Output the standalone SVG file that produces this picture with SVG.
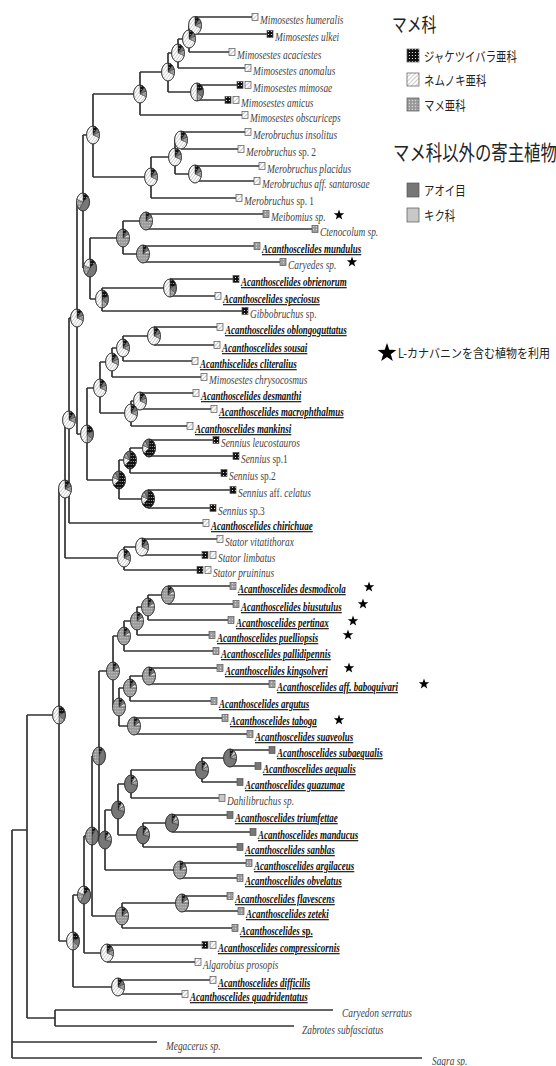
<svg xmlns="http://www.w3.org/2000/svg" width="556" height="1066" viewBox="0 0 556 1066">
<style>
.br{fill:none;stroke:#333;stroke-width:1.7}
.b{stroke:#555;stroke-width:.7}
.bc{fill:url(#pCaes)}
.bm{fill:url(#pMim)}
.bp{fill:url(#pPap)}
.bv{fill:#777}
.ba{fill:#c8c8c8}
.t{font-family:"Liberation Serif","Times New Roman",serif;font-size:12px;font-style:italic;fill:#444}
.tb{font-family:"Liberation Serif","Times New Roman",serif;font-size:11.5px;font-style:italic;font-weight:bold;fill:#111;text-decoration:underline}
.u{font-style:normal}
.s{stroke:#333;stroke-width:.6}
.lg{font-family:"Noto Sans CJK JP","Noto Sans CJK SC",sans-serif;fill:#222}
.st{fill:#000}
</style>
<defs>
<pattern id="pCaes" width="3" height="3" patternUnits="userSpaceOnUse"><rect width="3" height="3" fill="#111"/><circle cx="1.5" cy="1.5" r="0.6" fill="#fff"/></pattern>
<pattern id="pMim" width="3" height="3" patternUnits="userSpaceOnUse" patternTransform="rotate(45)"><rect width="3" height="3" fill="#fff"/><line x1="0" y1="0" x2="0" y2="3" stroke="#777" stroke-width="0.8"/></pattern>
<pattern id="pPap" width="3" height="3" patternUnits="userSpaceOnUse"><rect width="3" height="3" fill="#9a9a9a"/><circle cx="1.5" cy="1.5" r="0.7" fill="#d8d8d8"/></pattern>
<path id="star" d="M0,-5.5L1.29,-1.78L5.23,-1.7L2.09,0.68L3.23,4.45L0,2.2L-3.23,4.45L-2.09,0.68L-5.23,-1.7L-1.29,-1.78Z"/>
<g id="pieM">
<path class="s" d="M0,0L0,-9A9,9 0 0 1 6.16,-6.56Z" fill="url(#pCaes)"/>
<path class="s" d="M0,0L6.16,-6.56A9,9 0 0 1 8.56,-2.78Z" fill="#777"/>
<path class="s" d="M0,0L8.56,-2.78A9,9 0 0 1 8.56,2.78Z" fill="url(#pPap)"/>
<path class="s" d="M0,0L8.56,2.78A9,9 0 1 1 0,-9Z" fill="url(#pMim)"/>
<circle r="9" fill="none" stroke="#333" stroke-width="0.9"/>
</g>
<g id="pieC">
<path class="s" d="M0,0L0,-9A9,9 0 1 1 -7.28,5.29Z" fill="url(#pCaes)"/>
<path class="s" d="M0,0L-7.28,5.29A9,9 0 0 1 -8.56,-2.78Z" fill="url(#pMim)"/>
<path class="s" d="M0,0L-8.56,-2.78A9,9 0 0 1 -5.29,-7.28Z" fill="url(#pPap)"/>
<path class="s" d="M0,0L-5.29,-7.28A9,9 0 0 1 0,-9Z" fill="#777"/>
<circle r="9" fill="none" stroke="#333" stroke-width="0.9"/>
</g>
<g id="pieP">
<path class="s" d="M0,0L0,-9A9,9 0 0 1 5.29,-7.28Z" fill="url(#pCaes)"/>
<path class="s" d="M0,0L5.29,-7.28A9,9 0 0 1 8.14,-3.83Z" fill="#777"/>
<path class="s" d="M0,0L8.14,-3.83A9,9 0 0 1 9,0Z" fill="url(#pMim)"/>
<path class="s" d="M0,0L9,0A9,9 0 1 1 0,-9Z" fill="url(#pPap)"/>
<circle r="9" fill="none" stroke="#333" stroke-width="0.9"/>
</g>
<g id="pieV">
<path class="s" d="M0,0L0,-9A9,9 0 0 1 5.29,-7.28Z" fill="url(#pCaes)"/>
<path class="s" d="M0,0L5.29,-7.28A9,9 0 0 1 8.14,-3.83Z" fill="#c8c8c8"/>
<path class="s" d="M0,0L8.14,-3.83A9,9 0 0 1 8.84,1.69Z" fill="url(#pPap)"/>
<path class="s" d="M0,0L8.84,1.69A9,9 0 1 1 0,-9Z" fill="#777"/>
<circle r="9" fill="none" stroke="#333" stroke-width="0.9"/>
</g>
<g id="pieX">
<path class="s" d="M0,0L0,-9A9,9 0 0 1 8.56,-2.78Z" fill="url(#pCaes)"/>
<path class="s" d="M0,0L8.56,-2.78A9,9 0 0 1 7.28,5.29Z" fill="#777"/>
<path class="s" d="M0,0L7.28,5.29A9,9 0 0 1 0,9Z" fill="url(#pPap)"/>
<path class="s" d="M0,0L0,9A9,9 0 0 1 0,-9Z" fill="url(#pMim)"/>
<circle r="9" fill="none" stroke="#333" stroke-width="0.9"/>
</g>
<g id="pieD">
<path class="s" d="M0,0L0,-9A9,9 0 0 1 7.28,-5.29Z" fill="url(#pCaes)"/>
<path class="s" d="M0,0L7.28,-5.29A9,9 0 0 1 -5.29,7.28Z" fill="#777"/>
<path class="s" d="M0,0L-5.29,7.28A9,9 0 0 1 -8.56,-2.78Z" fill="url(#pPap)"/>
<path class="s" d="M0,0L-8.56,-2.78A9,9 0 0 1 0,-9Z" fill="url(#pMim)"/>
<circle r="9" fill="none" stroke="#333" stroke-width="0.9"/>
</g>
<g id="pieMP">
<path class="s" d="M0,0L0,-9A9,9 0 0 1 5.29,-7.28Z" fill="url(#pCaes)"/>
<path class="s" d="M0,0L5.29,-7.28A9,9 0 0 1 0,9Z" fill="#777"/>
<path class="s" d="M0,0L0,9A9,9 0 0 1 0,-9Z" fill="url(#pPap)"/>
<circle r="9" fill="none" stroke="#333" stroke-width="0.9"/>
</g>
</defs>
<rect width="556" height="1066" fill="#fff"/>

<g id="connectors" class="br">
<path d="M195,17V34M195,17H252M195,34H267"/>
<path d="M189,25.5V52M189,25.5H195M189,52H229"/>
<path d="M178,39V68M178,39H189M178,68H245"/>
<path d="M197,85V100M197,85H237M197,100H225"/>
<path d="M168,53V92M168,53H178M168,92H197"/>
<path d="M140,72V115M140,72H168M140,115H242"/>
<path d="M181,132V149M181,132H245M181,149H238"/>
<path d="M195,166V181M195,166H259M195,181H254"/>
<path d="M175,140V174M175,140H181M175,174H195"/>
<path d="M151,157V198M151,157H175M151,198H236"/>
<path d="M93,94V177M93,94H140M93,177H151"/>
<path d="M146,214V229M146,214H263M146,229H312"/>
<path d="M143,246V262M143,246H254M143,262H280"/>
<path d="M123,221V254M123,221H146M123,254H143"/>
<path d="M170,279V296M170,279H233M170,296H215"/>
<path d="M102,288V311M102,288H170M102,311H242"/>
<path d="M90,238V299M90,238H123M90,299H102"/>
<path d="M83,135V268M83,135H93M83,268H90"/>
<path d="M154,327V345M154,327H217M154,345H214"/>
<path d="M123,336V361M123,336H154M123,361H192"/>
<path d="M112,348V377M112,348H123M112,377H201"/>
<path d="M140,393V409M140,393H193M140,409H211"/>
<path d="M131,401V426M131,401H140M131,426H187"/>
<path d="M100,362V413M100,362H112M100,413H131"/>
<path d="M149,440V456M149,440H213M149,456H233"/>
<path d="M130,448V473M130,448H149M130,473H221"/>
<path d="M148,490V508M148,490H230M148,508H210"/>
<path d="M119,460V499M119,460H130M119,499H148"/>
<path d="M87,388V480M87,388H100M87,480H119"/>
<path d="M77,202V434M77,202H83M77,434H87"/>
<path d="M69,318V523M69,318H77M69,523H203"/>
<path d="M142,539V555M142,539H217M142,555H202"/>
<path d="M124,547V570M124,547H142M124,570H197"/>
<path d="M65,420V558M65,420H69M65,558H124"/>
<path d="M168,586V604M168,586H230M168,604H233"/>
<path d="M148,595V620M148,595H168M148,620H228"/>
<path d="M137,607V635M137,607H148M137,635H209"/>
<path d="M124,621V651M124,621H137M124,651H213"/>
<path d="M149,668V684M149,668H217M149,684H269"/>
<path d="M130,676V701M130,676H149M130,701H211"/>
<path d="M134,718V734M134,718H222M134,734H247"/>
<path d="M119,688V726M119,688H130M119,726H134"/>
<path d="M113,636V707M113,636H124M113,707H119"/>
<path d="M230,750V766M230,750H269M230,766H255"/>
<path d="M202,758V782M202,758H230M202,782H237"/>
<path d="M131,770V798M131,770H202M131,798H219"/>
<path d="M172,815V832M172,815H227M172,832H250"/>
<path d="M143,823V847M143,823H172M143,847H237"/>
<path d="M118,784V835M118,784H131M118,835H143"/>
<path d="M180,863V878M180,863H246M180,878H237"/>
<path d="M105,810V870M105,810H118M105,870H180"/>
<path d="M99,671V840M99,671H113M99,840H105"/>
<path d="M182,896V911M182,896H227M182,911H238"/>
<path d="M122,903V928M122,903H182M122,928H232"/>
<path d="M92,756V916M92,756H99M92,916H122"/>
<path d="M107,945V962M107,945H202M107,962H195"/>
<path d="M84,836V953M84,836H92M84,953H107"/>
<path d="M118,980V994M118,980H210M118,994H182"/>
<path d="M73,895V987M73,895H84M73,987H118"/>
<path d="M59,489V941M59,489H65M59,941H73"/>
<path d="M55,1010V1026M55,1010H333M55,1026H294"/>
<path d="M27,715V1018M27,715H59M27,1018H55"/>
<path d="M12,830V1058M12,830H27M12,1042H157M12,1058H422"/>
</g>

<g id="internal-nodes">
<use href="#pieM" transform="translate(195,25.5) scale(.72,1)"/>
<use href="#pieM" transform="translate(189,39) scale(.72,1)"/>
<use href="#pieM" transform="translate(178,53) scale(.72,1)"/>
<use href="#pieX" transform="translate(197,92) scale(.72,1)"/>
<use href="#pieM" transform="translate(168,72) scale(.72,1)"/>
<use href="#pieM" transform="translate(140,94) scale(.72,1)"/>
<use href="#pieM" transform="translate(181,140) scale(.72,1)"/>
<use href="#pieM" transform="translate(195,174) scale(.72,1)"/>
<use href="#pieM" transform="translate(175,157) scale(.72,1)"/>
<use href="#pieM" transform="translate(151,177) scale(.72,1)"/>
<use href="#pieM" transform="translate(93,135) scale(.72,1)"/>
<use href="#pieP" transform="translate(146,221) scale(.72,1)"/>
<use href="#pieP" transform="translate(143,254) scale(.72,1)"/>
<use href="#pieP" transform="translate(123,238) scale(.72,1)"/>
<use href="#pieX" transform="translate(170,288) scale(.72,1)"/>
<use href="#pieX" transform="translate(102,299) scale(.72,1)"/>
<use href="#pieD" transform="translate(90,268) scale(.72,1)"/>
<use href="#pieD" transform="translate(83,202) scale(.72,1)"/>
<use href="#pieM" transform="translate(154,336) scale(.72,1)"/>
<use href="#pieM" transform="translate(123,348) scale(.72,1)"/>
<use href="#pieM" transform="translate(112,362) scale(.72,1)"/>
<use href="#pieM" transform="translate(140,401) scale(.72,1)"/>
<use href="#pieM" transform="translate(131,413) scale(.72,1)"/>
<use href="#pieM" transform="translate(100,388) scale(.72,1)"/>
<use href="#pieC" transform="translate(149,448) scale(.72,1)"/>
<use href="#pieC" transform="translate(130,460) scale(.72,1)"/>
<use href="#pieC" transform="translate(148,499) scale(.72,1)"/>
<use href="#pieC" transform="translate(119,480) scale(.72,1)"/>
<use href="#pieX" transform="translate(87,434) scale(.72,1)"/>
<use href="#pieM" transform="translate(77,318) scale(.72,1)"/>
<use href="#pieM" transform="translate(69,420) scale(.72,1)"/>
<use href="#pieM" transform="translate(142,547) scale(.72,1)"/>
<use href="#pieM" transform="translate(124,558) scale(.72,1)"/>
<use href="#pieM" transform="translate(65,489) scale(.72,1)"/>
<use href="#pieP" transform="translate(168,595) scale(.72,1)"/>
<use href="#pieP" transform="translate(148,607) scale(.72,1)"/>
<use href="#pieP" transform="translate(137,621) scale(.72,1)"/>
<use href="#pieP" transform="translate(124,636) scale(.72,1)"/>
<use href="#pieP" transform="translate(149,676) scale(.72,1)"/>
<use href="#pieP" transform="translate(130,688) scale(.72,1)"/>
<use href="#pieP" transform="translate(134,726) scale(.72,1)"/>
<use href="#pieP" transform="translate(119,707) scale(.72,1)"/>
<use href="#pieP" transform="translate(113,671) scale(.72,1)"/>
<use href="#pieV" transform="translate(230,758) scale(.72,1)"/>
<use href="#pieV" transform="translate(202,770) scale(.72,1)"/>
<use href="#pieV" transform="translate(131,784) scale(.72,1)"/>
<use href="#pieV" transform="translate(172,823) scale(.72,1)"/>
<use href="#pieV" transform="translate(143,835) scale(.72,1)"/>
<use href="#pieV" transform="translate(118,810) scale(.72,1)"/>
<use href="#pieP" transform="translate(180,870) scale(.72,1)"/>
<use href="#pieV" transform="translate(105,840) scale(.72,1)"/>
<use href="#pieMP" transform="translate(99,756) scale(.72,1)"/>
<use href="#pieP" transform="translate(182,903) scale(.72,1)"/>
<use href="#pieP" transform="translate(122,916) scale(.72,1)"/>
<use href="#pieMP" transform="translate(92,836) scale(.72,1)"/>
<use href="#pieM" transform="translate(107,953) scale(.72,1)"/>
<use href="#pieD" transform="translate(84,895) scale(.72,1)"/>
<use href="#pieM" transform="translate(118,987) scale(.72,1)"/>
<use href="#pieX" transform="translate(73,941) scale(.72,1)"/>
<use href="#pieX" transform="translate(59,715) scale(.72,1)"/>
</g>

<g id="leaves">
<g id="L01"><rect class="b bm" x="252" y="13.5" width="6" height="7"/><text class="t" transform="translate(260,24) scale(.78,1)">Mimosestes humeralis</text></g>
<g id="L02"><rect class="b bc" x="267" y="30.5" width="6" height="7"/><text class="t" transform="translate(275,41) scale(.78,1)">Mimosestes ulkei</text></g>
<g id="L03"><rect class="b bm" x="229" y="48.5" width="6" height="7"/><text class="t" transform="translate(237,59) scale(.78,1)">Mimosestes acaciestes</text></g>
<g id="L04"><rect class="b bm" x="245" y="64.5" width="6" height="7"/><text class="t" transform="translate(253,75) scale(.78,1)">Mimosestes anomalus</text></g>
<g id="L05"><rect class="b bc" x="237" y="81.5" width="6" height="7"/><rect class="b bm" x="245" y="81.5" width="6" height="7"/><text class="t" transform="translate(253,92) scale(.78,1)">Mimosestes mimosae</text></g>
<g id="L06"><rect class="b bc" x="225" y="96.5" width="6" height="7"/><rect class="b bm" x="233" y="96.5" width="6" height="7"/><text class="t" transform="translate(241,107) scale(.78,1)">Mimosestes amicus</text></g>
<g id="L07"><rect class="b bm" x="242" y="111.5" width="6" height="7"/><text class="t" transform="translate(250,122) scale(.78,1)">Mimosestes obscuriceps</text></g>
<g id="L08"><rect class="b bm" x="245" y="128.5" width="6" height="7"/><text class="t" transform="translate(253,139) scale(.78,1)">Merobruchus insolitus</text></g>
<g id="L09"><rect class="b bm" x="238" y="145.5" width="6" height="7"/><text class="t" transform="translate(246,156) scale(.78,1)">Merobruchus <tspan class="u">sp. 2</tspan></text></g>
<g id="L10"><rect class="b bm" x="259" y="162.5" width="6" height="7"/><text class="t" transform="translate(267,173) scale(.78,1)">Merobruchus placidus</text></g>
<g id="L11"><rect class="b bm" x="254" y="177.5" width="6" height="7"/><text class="t" transform="translate(262,188) scale(.78,1)">Merobruchus aff. santarosae</text></g>
<g id="L12"><rect class="b bm" x="236" y="194.5" width="6" height="7"/><text class="t" transform="translate(244,205) scale(.78,1)">Merobruchus <tspan class="u">sp. 1</tspan></text></g>
<g id="L13"><rect class="b bp" x="263" y="210.5" width="6" height="7"/><text class="t" transform="translate(271,221) scale(.78,1)">Meibomius sp.</text><use class="st" href="#star" x="339" y="215"/></g>
<g id="L14"><rect class="b bp" x="312" y="225.5" width="6" height="7"/><text class="t" transform="translate(320,236) scale(.78,1)">Ctenocolum sp.</text></g>
<g id="L15"><rect class="b bp" x="254" y="242.5" width="6" height="7"/><text class="tb" transform="translate(262,253) scale(.78,1)">Acanthoscelides mundulus</text></g>
<g id="L16"><rect class="b bp" x="280" y="258.5" width="6" height="7"/><text class="t" transform="translate(288,269) scale(.78,1)">Caryedes sp.</text><use class="st" href="#star" x="352" y="262"/></g>
<g id="L17"><rect class="b bc" x="233" y="275.5" width="6" height="7"/><text class="tb" transform="translate(241,286) scale(.78,1)">Acanthoscelides obrienorum</text></g>
<g id="L18"><rect class="b bm" x="215" y="292.5" width="6" height="7"/><text class="tb" transform="translate(223,303) scale(.78,1)">Acanthoscelides speciosus</text></g>
<g id="L19"><rect class="b bc" x="242" y="307.5" width="6" height="7"/><text class="t" transform="translate(250,318) scale(.78,1)">Gibbobruchus <tspan class="u">sp.</tspan></text></g>
<g id="L20"><rect class="b bm" x="217" y="323.5" width="6" height="7"/><text class="tb" transform="translate(225,334) scale(.78,1)">Acanthoscelides oblongoguttatus</text></g>
<g id="L21"><rect class="b bm" x="214" y="341.5" width="6" height="7"/><text class="tb" transform="translate(222,352) scale(.78,1)">Acanthoscelides sousai</text></g>
<g id="L22"><rect class="b bm" x="192" y="357.5" width="6" height="7"/><text class="tb" transform="translate(200,368) scale(.78,1)">Acanthiscelides cliteralius</text></g>
<g id="L23"><rect class="b bm" x="201" y="373.5" width="6" height="7"/><text class="t" transform="translate(209,384) scale(.78,1)">Mimosestes chrysocosmus</text></g>
<g id="L24"><rect class="b bm" x="193" y="389.5" width="6" height="7"/><text class="tb" transform="translate(201,400) scale(.78,1)">Acanthoscelides desmanthi</text></g>
<g id="L25"><rect class="b bm" x="211" y="405.5" width="6" height="7"/><text class="tb" transform="translate(219,416) scale(.78,1)">Acanthoscelides macrophthalmus</text></g>
<g id="L26"><rect class="b bm" x="187" y="422.5" width="6" height="7"/><text class="tb" transform="translate(195,433) scale(.78,1)">Acanthoscelides mankinsi</text></g>
<g id="L27"><rect class="b bc" x="213" y="436.5" width="6" height="7"/><text class="t" transform="translate(221,447) scale(.78,1)">Sennius leucostauros</text></g>
<g id="L28"><rect class="b bc" x="233" y="452.5" width="6" height="7"/><text class="t" transform="translate(241,463) scale(.78,1)">Sennius <tspan class="u">sp.1</tspan></text></g>
<g id="L29"><rect class="b bc" x="221" y="469.5" width="6" height="7"/><text class="t" transform="translate(229,480) scale(.78,1)">Sennius <tspan class="u">sp.2</tspan></text></g>
<g id="L30"><rect class="b bc" x="230" y="486.5" width="6" height="7"/><text class="t" transform="translate(238,497) scale(.78,1)">Sennius <tspan class="u">aff.</tspan> celatus</text></g>
<g id="L31"><rect class="b bc" x="210" y="504.5" width="6" height="7"/><text class="t" transform="translate(218,515) scale(.78,1)">Sennius <tspan class="u">sp.3</tspan></text></g>
<g id="L32"><rect class="b bm" x="203" y="519.5" width="6" height="7"/><text class="tb" transform="translate(211,530) scale(.78,1)">Acanthoscelides chirichuae</text></g>
<g id="L33"><rect class="b bm" x="217" y="535.5" width="6" height="7"/><text class="t" transform="translate(225,546) scale(.78,1)">Stator vitatithorax</text></g>
<g id="L34"><rect class="b bc" x="202" y="551.5" width="6" height="7"/><rect class="b bm" x="210" y="551.5" width="6" height="7"/><text class="t" transform="translate(218,562) scale(.78,1)">Stator limbatus</text></g>
<g id="L35"><rect class="b bc" x="197" y="566.5" width="6" height="7"/><rect class="b bm" x="205" y="566.5" width="6" height="7"/><text class="t" transform="translate(213,577) scale(.78,1)">Stator pruininus</text></g>
<g id="L36"><rect class="b bp" x="230" y="582.5" width="6" height="7"/><text class="tb" transform="translate(238,593) scale(.78,1)">Acanthoscelides desmodicola</text><use class="st" href="#star" x="369" y="587"/></g>
<g id="L37"><rect class="b bp" x="233" y="600.5" width="6" height="7"/><text class="tb" transform="translate(241,611) scale(.78,1)">Acanthoscelides biusutulus</text><use class="st" href="#star" x="363" y="604"/></g>
<g id="L38"><rect class="b bp" x="228" y="616.5" width="6" height="7"/><text class="tb" transform="translate(236,627) scale(.78,1)">Acanthoscelides pertinax</text><use class="st" href="#star" x="353" y="621"/></g>
<g id="L39"><rect class="b bp" x="209" y="631.5" width="6" height="7"/><text class="tb" transform="translate(217,642) scale(.78,1)">Acanthoscelides puelliopsis</text><use class="st" href="#star" x="348" y="635"/></g>
<g id="L40"><rect class="b bp" x="213" y="647.5" width="6" height="7"/><text class="tb" transform="translate(221,658) scale(.78,1)">Acanthoscelides pallidipennis</text></g>
<g id="L41"><rect class="b bp" x="217" y="664.5" width="6" height="7"/><text class="tb" transform="translate(225,675) scale(.78,1)">Acanthoscelides kingsolveri</text><use class="st" href="#star" x="349" y="668"/></g>
<g id="L42"><rect class="b bp" x="269" y="680.5" width="6" height="7"/><text class="tb" transform="translate(277,691) scale(.78,1)">Acanthoscelides aff. baboquivari</text><use class="st" href="#star" x="424" y="684"/></g>
<g id="L43"><rect class="b bp" x="211" y="697.5" width="6" height="7"/><text class="tb" transform="translate(219,708) scale(.78,1)">Acanthoscelides argutus</text></g>
<g id="L44"><rect class="b bp" x="222" y="714.5" width="6" height="7"/><text class="tb" transform="translate(230,725) scale(.78,1)">Acanthoscelides taboga</text><use class="st" href="#star" x="339" y="720"/></g>
<g id="L45"><rect class="b bp" x="247" y="730.5" width="6" height="7"/><text class="tb" transform="translate(255,741) scale(.78,1)">Acanthoscelides suaveolus</text></g>
<g id="L46"><rect class="b bv" x="269" y="746.5" width="6" height="7"/><text class="tb" transform="translate(277,757) scale(.78,1)">Acanthoscelides subaequalis</text></g>
<g id="L47"><rect class="b bv" x="255" y="762.5" width="6" height="7"/><text class="tb" transform="translate(263,773) scale(.78,1)">Acanthoscelides aequalis</text></g>
<g id="L48"><rect class="b bv" x="237" y="778.5" width="6" height="7"/><text class="tb" transform="translate(245,789) scale(.78,1)">Acanthoscelides guazumae</text></g>
<g id="L49"><rect class="b ba" x="219" y="794.5" width="6" height="7"/><text class="t" transform="translate(227,805) scale(.78,1)">Dahilibruchus sp.</text></g>
<g id="L50"><rect class="b bv" x="227" y="811.5" width="6" height="7"/><text class="tb" transform="translate(235,822) scale(.78,1)">Acanthoscelides triumfettae</text></g>
<g id="L51"><rect class="b bv" x="250" y="828.5" width="6" height="7"/><text class="tb" transform="translate(258,839) scale(.78,1)">Acanthoscelides manducus</text></g>
<g id="L52"><rect class="b bv" x="237" y="843.5" width="6" height="7"/><text class="tb" transform="translate(245,854) scale(.78,1)">Acanthoscelides sanblas</text></g>
<g id="L53"><rect class="b bp" x="246" y="859.5" width="6" height="7"/><text class="tb" transform="translate(254,870) scale(.78,1)">Acanthoscelides argilaceus</text></g>
<g id="L54"><rect class="b bp" x="237" y="874.5" width="6" height="7"/><text class="tb" transform="translate(245,885) scale(.78,1)">Acanthoscelides obvelatus</text></g>
<g id="L55"><rect class="b bp" x="227" y="892.5" width="6" height="7"/><text class="tb" transform="translate(235,903) scale(.78,1)">Acanthoscelides flavescens</text></g>
<g id="L56"><rect class="b bp" x="238" y="907.5" width="6" height="7"/><text class="tb" transform="translate(246,918) scale(.78,1)">Acanthoscelides zeteki</text></g>
<g id="L57"><rect class="b bp" x="232" y="924.5" width="6" height="7"/><text class="tb" transform="translate(240,935) scale(.78,1)">Acanthoscelides <tspan class="u">sp.</tspan></text></g>
<g id="L58"><rect class="b bc" x="202" y="941.5" width="6" height="7"/><rect class="b bm" x="210" y="941.5" width="6" height="7"/><text class="tb" transform="translate(218,952) scale(.78,1)">Acanthoscelides compressicornis</text></g>
<g id="L59"><rect class="b bm" x="195" y="958.5" width="6" height="7"/><text class="t" transform="translate(203,969) scale(.78,1)">Algarobius prosopis</text></g>
<g id="L60"><rect class="b bm" x="210" y="976.5" width="6" height="7"/><text class="tb" transform="translate(218,987) scale(.78,1)">Acanthoscelides difficilis</text></g>
<g id="L61"><rect class="b bm" x="182" y="990.5" width="6" height="7"/><text class="tb" transform="translate(190,1001) scale(.78,1)">Acanthoscelides quadridentatus</text></g>
<g id="L62"><text class="t" transform="translate(342,1017) scale(.78,1)">Caryedon serratus</text></g>
<g id="L63"><text class="t" transform="translate(302,1034) scale(.78,1)">Zabrotes subfasciatus</text></g>
<g id="L64"><text class="t" transform="translate(166,1050) scale(.78,1)">Megacerus sp.</text></g>
<g id="L65"><text class="t" transform="translate(432,1065) scale(.78,1)">Sagra sp.</text></g>
</g>

<g id="legend">
<text class="lg" font-size="19" transform="translate(392,32) scale(.78,1)">マメ科</text>
<rect class="b bc" x="407" y="49" width="12" height="13"/>
<text class="lg" font-size="13" transform="translate(424,61) scale(.8,1)">ジャケツイバラ亜科</text>
<rect class="b bm" x="407" y="73" width="12" height="13"/>
<text class="lg" font-size="13" transform="translate(424,85) scale(.8,1)">ネムノキ亜科</text>
<rect class="b bp" x="407" y="98" width="12" height="13"/>
<text class="lg" font-size="13" transform="translate(424,110) scale(.8,1)">マメ亜科</text>
<text class="lg" font-size="21" transform="translate(393,160) scale(.78,1)">マメ科以外の寄主植物</text>
<rect class="b bv" x="407" y="183" width="12" height="14"/>
<text class="lg" font-size="13" transform="translate(424,195) scale(.8,1)">アオイ目</text>
<rect class="b ba" x="407" y="208" width="12" height="14"/>
<text class="lg" font-size="13" transform="translate(424,220) scale(.8,1)">キク科</text>
<use class="st" href="#star" transform="translate(387,353) scale(1.8)"/>
<text class="lg" font-size="12.5" transform="translate(398,358) scale(.88,1)">L-カナバニンを含む植物を利用</text>
</g>
</svg>
